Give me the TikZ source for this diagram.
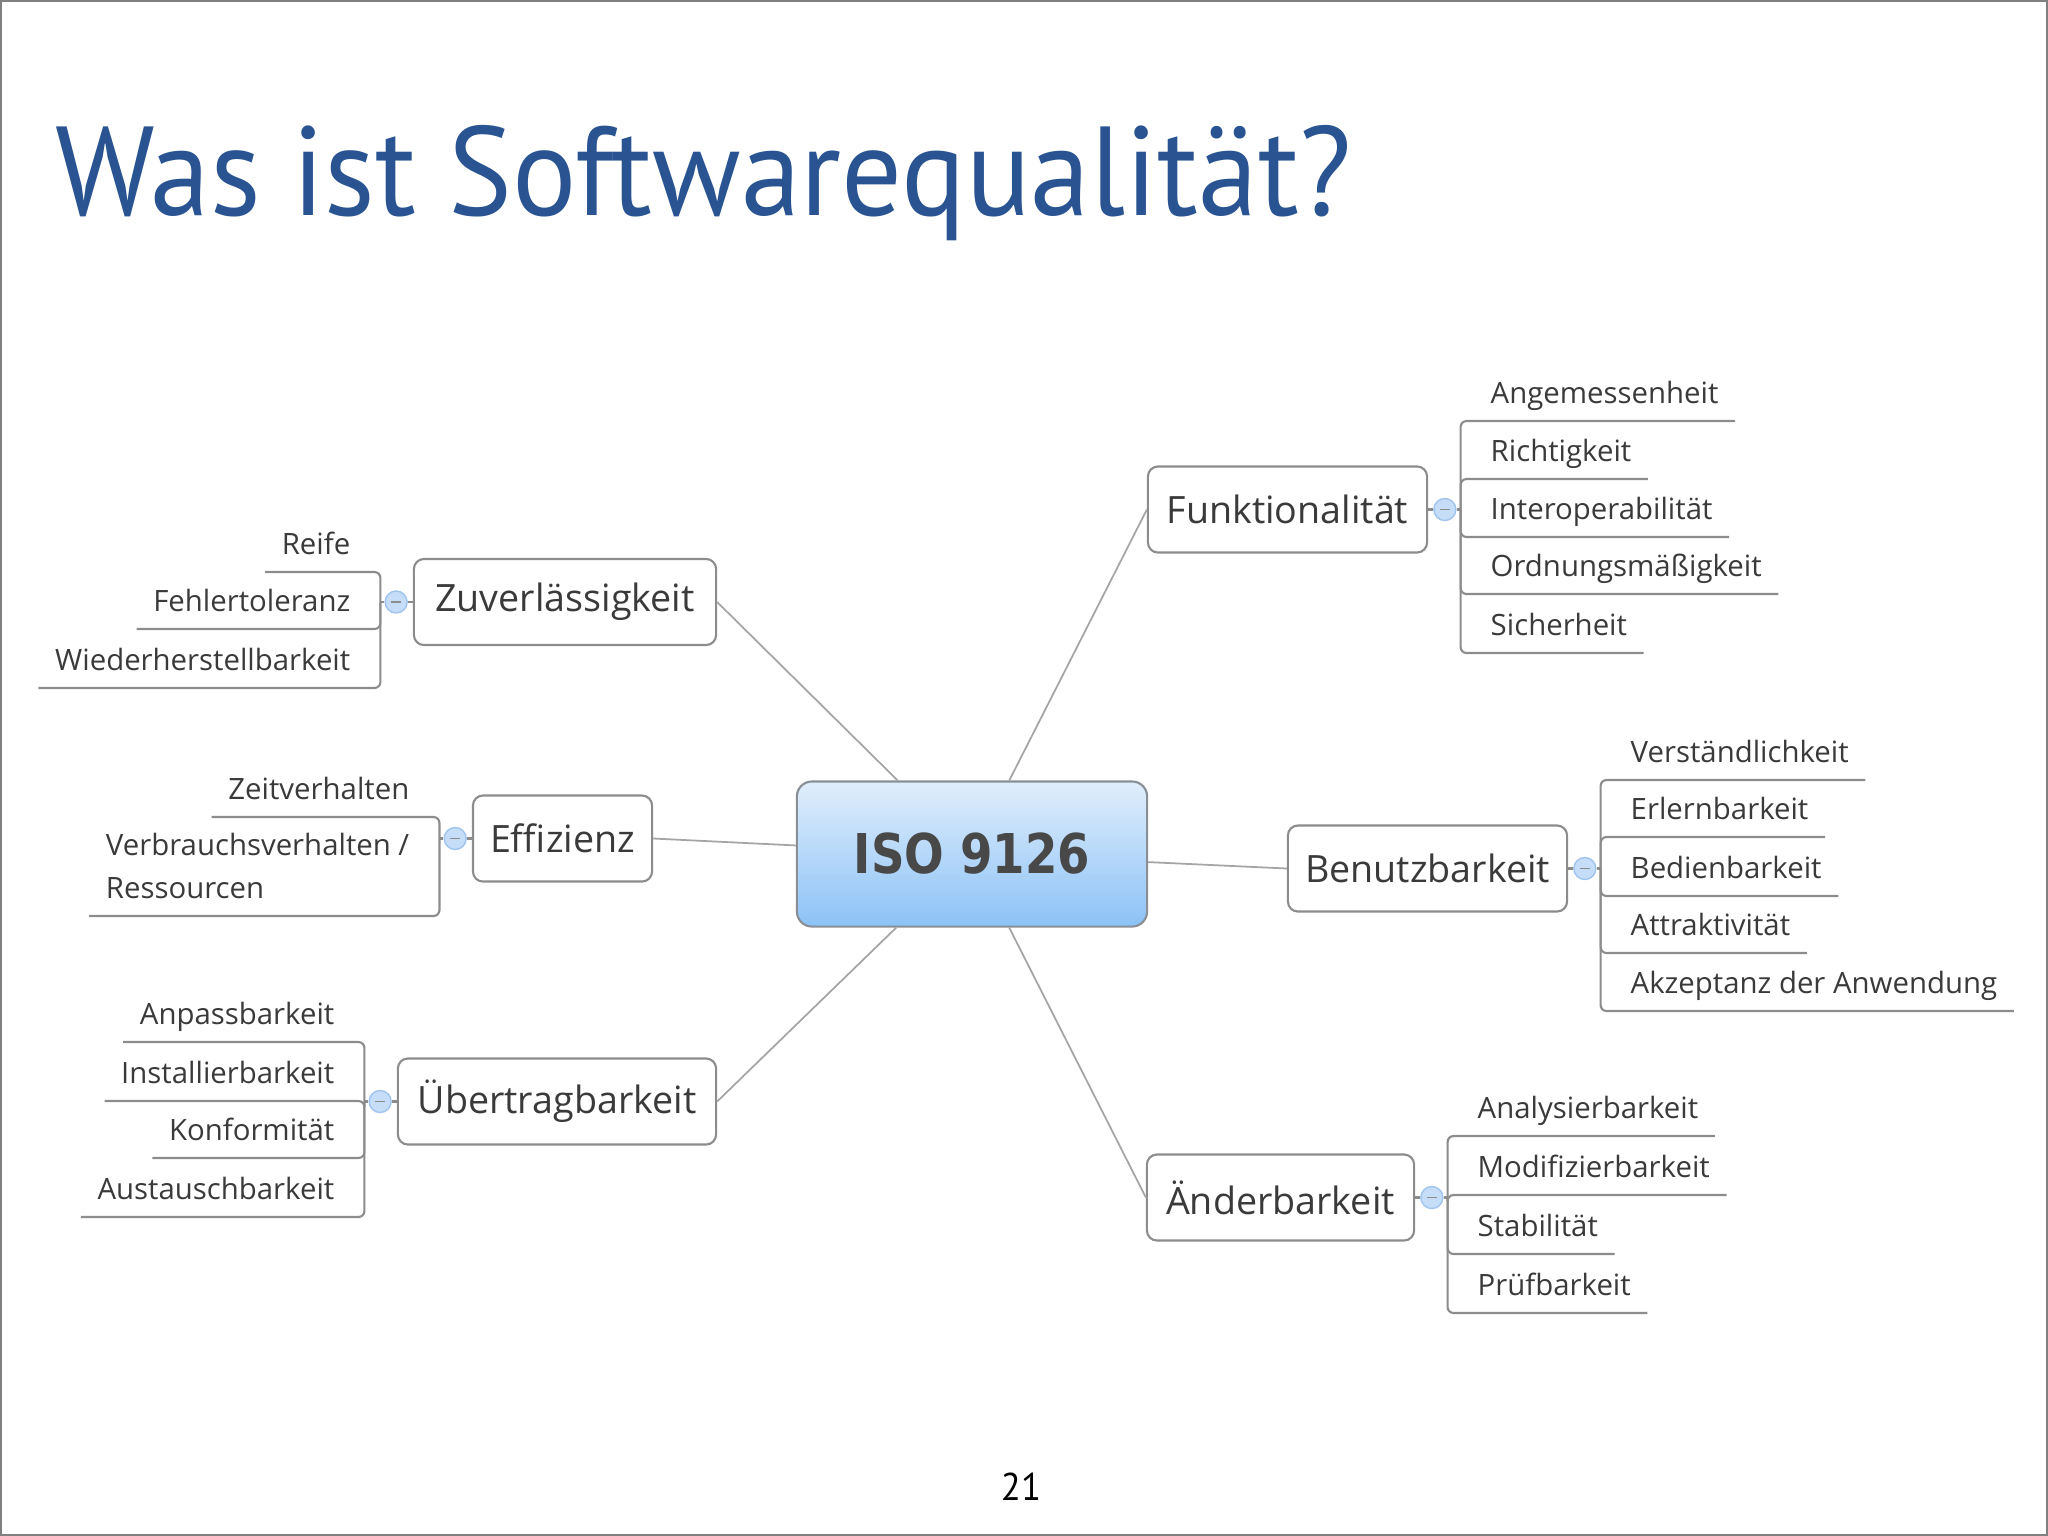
\documentclass[tikz,border=0pt]{standalone}
\usepackage{fontspec}
\usepackage{tikz}
\usetikzlibrary{positioning,calc}
\setmainfont{Open Sans}
\newfontfamily\headfont[FakeStretch=0.95]{PT Sans}
\newfontfamily\isofont[FakeStretch=0.85]{DejaVu Sans}
\definecolor{titleblue}{RGB}{41,84,145}
\definecolor{inkgray}{RGB}{58,58,58}
\definecolor{isoink}{RGB}{72,72,72}
\definecolor{rulegray}{RGB}{140,140,140}
\definecolor{spokegray}{RGB}{165,165,165}
\definecolor{framegray}{RGB}{128,128,128}
\definecolor{isoborder}{RGB}{138,143,150}
\definecolor{isotop}{RGB}{224,238,252}
\definecolor{isobottom}{RGB}{140,194,246}
\definecolor{togglefill}{RGB}{197,221,248}
\definecolor{togglerim}{RGB}{160,196,238}
\newcommand{\leaffont}{\fontsize{8.35}{12}\selectfont}
\newcommand{\branchfont}{\fontsize{10.7}{12}\selectfont}

\begin{document}
\begin{tikzpicture}[x=0.01cm,y=-0.01cm,
        branch/.style={draw=rulegray,line width=0.6pt,rounded corners=0.1cm,fill=white,minimum height=0.86cm,font=\branchfont,text=inkgray},
        toggle/.style={circle,draw=togglerim,fill=togglefill,minimum size=0.22cm,inner sep=0pt,path picture={\draw[rulegray,line width=0.4pt]([xshift=-0.05cm]path picture bounding box.center)--([xshift=0.05cm]path picture bounding box.center);}},
        leaftext/.style={font=\leaffont,text=inkgray,inner xsep=0.16cm},
        leaf/.style={leaftext,inner ysep=0pt,text depth=0.17cm},
        twig/.style={draw=rulegray,line width=0.6pt,rounded corners=0.06cm},
        spoke/.style={draw=spokegray,line width=0.5pt}]
        \useasboundingbox (0,0) rectangle (2048,1536);
        \draw[framegray,line width=0.6pt] (1,1) rectangle (2047,1535);

        \node[anchor=base west,font=\headfont\fontsize{36}{40}\selectfont,text=titleblue,inner sep=0pt] (title) at (55,215) {Was ist Softwarequalität?};
        \node[anchor=base,font=\headfont\fontsize{11}{12}\selectfont,inner sep=0pt] (page) at (1021,1500) {21};

        \node[draw=isoborder,line width=0.6pt,rounded corners=0.15cm,top color=isotop,bottom color=isobottom,minimum width=3.5cm,minimum height=1.45cm,font=\isofont\bfseries\fontsize{15.6}{18}\selectfont,text=isoink] (iso) at (972,854) {ISO 9126};

        \node[branch,minimum width=2.79cm] (fk) at (1287.5,509.5) {Funktionalität};
        \node[branch,minimum width=2.79cm] (bz) at (1427.5,868.5) {Benutzbarkeit};
        \node[branch,minimum width=2.67cm] (ae) at (1280.5,1197.5) {Änderbarkeit};
        \node[branch,minimum width=3.02cm] (zv) at (565,602) {Zuverlässigkeit};
        \node[branch,minimum width=1.79cm] (ef) at (562.5,838.5) {Effizienz};
        \node[branch,minimum width=3.18cm] (ut) at (557,1101.5) {Übertragbarkeit};

        \draw[spoke] (iso) -- (fk.west);
        \draw[spoke] (iso) -- (bz.west);
        \draw[spoke] (iso) -- (ae.west);
        \draw[spoke] (iso) -- (zv.east);
        \draw[spoke] (iso) -- (ef.east);
        \draw[spoke] (iso) -- (ut.east);

        \node[toggle,right=0.05cm of fk] (fk-t) {};
        \node[toggle,right=0.05cm of bz] (bz-t) {};
        \node[toggle,right=0.05cm of ae] (ae-t) {};
        \node[toggle,left=0.05cm of zv] (zv-t) {};
        \node[toggle,left=0.05cm of ef] (ef-t) {};
        \node[toggle,left=0.05cm of ut] (ut-t) {};

        \coordinate (fk-j) at ([xshift=0.04cm]fk-t.east);
        \coordinate (bz-j) at ([xshift=0.04cm]bz-t.east);
        \coordinate (ae-j) at ([xshift=0.04cm]ae-t.east);
        \coordinate (zv-j) at ([xshift=-0.04cm]zv-t.west);
        \coordinate (ef-j) at ([xshift=-0.04cm]ef-t.west);
        \coordinate (ut-j) at ([xshift=-0.04cm]ut-t.west);

        \draw[twig] (fk) -- (fk-t);
        \draw[twig] (fk-t) -- (fk-j);
        \draw[twig] (bz) -- (bz-t);
        \draw[twig] (bz-t) -- (bz-j);
        \draw[twig] (ae) -- (ae-t);
        \draw[twig] (ae-t) -- (ae-j);
        \draw[twig] (zv) -- (zv-t);
        \draw[twig] (zv-t) -- (zv-j);
        \draw[twig] (ef) -- (ef-t);
        \draw[twig] (ef-t) -- (ef-j);
        \draw[twig] (ut) -- (ut-t);
        \draw[twig] (ut-t) -- (ut-j);

        \node[leaf,anchor=south west] (fk1) at (1474,421) {Angemessenheit};
        \node[leaf,anchor=south west] (fk2) at (1474,479) {Richtigkeit};
        \node[leaf,anchor=south west] (fk3) at (1474,537) {Interoperabilität};
        \node[leaf,anchor=south west] (fk4) at (1474,594) {Ordnungsmäßigkeit};
        \node[leaf,anchor=south west] (fk5) at (1474,653) {Sicherheit};
        \draw[twig] (fk-j) |- (fk1.south east);
        \draw[twig] (fk-j) |- (fk2.south east);
        \draw[twig] (fk-j) |- (fk3.south east);
        \draw[twig] (fk-j) |- (fk4.south east);
        \draw[twig] (fk-j) |- (fk5.south east);

        \node[leaf,anchor=south west] (bz1) at (1614,780) {Verständlichkeit};
        \node[leaf,anchor=south west] (bz2) at (1614,837) {Erlernbarkeit};
        \node[leaf,anchor=south west] (bz3) at (1614,896) {Bedienbarkeit};
        \node[leaf,anchor=south west] (bz4) at (1614,953) {Attraktivität};
        \node[leaf,anchor=south west] (bz5) at (1614,1011) {Akzeptanz der Anwendung};
        \draw[twig] (bz-j) |- (bz1.south east);
        \draw[twig] (bz-j) |- (bz2.south east);
        \draw[twig] (bz-j) |- (bz3.south east);
        \draw[twig] (bz-j) |- (bz4.south east);
        \draw[twig] (bz-j) |- (bz5.south east);

        \node[leaf,anchor=south west] (ae1) at (1461,1136) {Analysierbarkeit};
        \node[leaf,anchor=south west] (ae2) at (1461,1195) {Modifizierbarkeit};
        \node[leaf,anchor=south west] (ae3) at (1461,1254) {Stabilität};
        \node[leaf,anchor=south west] (ae4) at (1461,1313) {Prüfbarkeit};
        \draw[twig] (ae-j) |- (ae1.south east);
        \draw[twig] (ae-j) |- (ae2.south east);
        \draw[twig] (ae-j) |- (ae3.south east);
        \draw[twig] (ae-j) |- (ae4.south east);

        \node[leaf,anchor=south east] (zv1) at (367,572) {Reife};
        \node[leaf,anchor=south east] (zv2) at (367,629) {Fehlertoleranz};
        \node[leaf,anchor=south east] (zv3) at (367,688) {Wiederherstellbarkeit};
        \draw[twig] (zv-j) |- (zv1.south west);
        \draw[twig] (zv-j) |- (zv2.south west);
        \draw[twig] (zv-j) |- (zv3.south west);

        \node[leaf,anchor=south east] (ef1) at (426,817) {Zeitverhalten};
        \node[leaftext,inner ysep=0.17cm,align=left,anchor=south east] (ef2) at (426,916) {Verbrauchsverhalten /\\Ressourcen};
        \draw[twig] (ef-j) |- (ef1.south west);
        \draw[twig] (ef-j) |- (ef2.south west);

        \node[leaf,anchor=south east] (ut1) at (351,1042) {Anpassbarkeit};
        \node[leaf,anchor=south east] (ut2) at (351,1101) {Installierbarkeit};
        \node[leaf,anchor=south east] (ut3) at (351,1158) {Konformität};
        \node[leaf,anchor=south east] (ut4) at (351,1217) {Austauschbarkeit};
        \draw[twig] (ut-j) |- (ut1.south west);
        \draw[twig] (ut-j) |- (ut2.south west);
        \draw[twig] (ut-j) |- (ut3.south west);
        \draw[twig] (ut-j) |- (ut4.south west);
\end{tikzpicture}
\end{document}
